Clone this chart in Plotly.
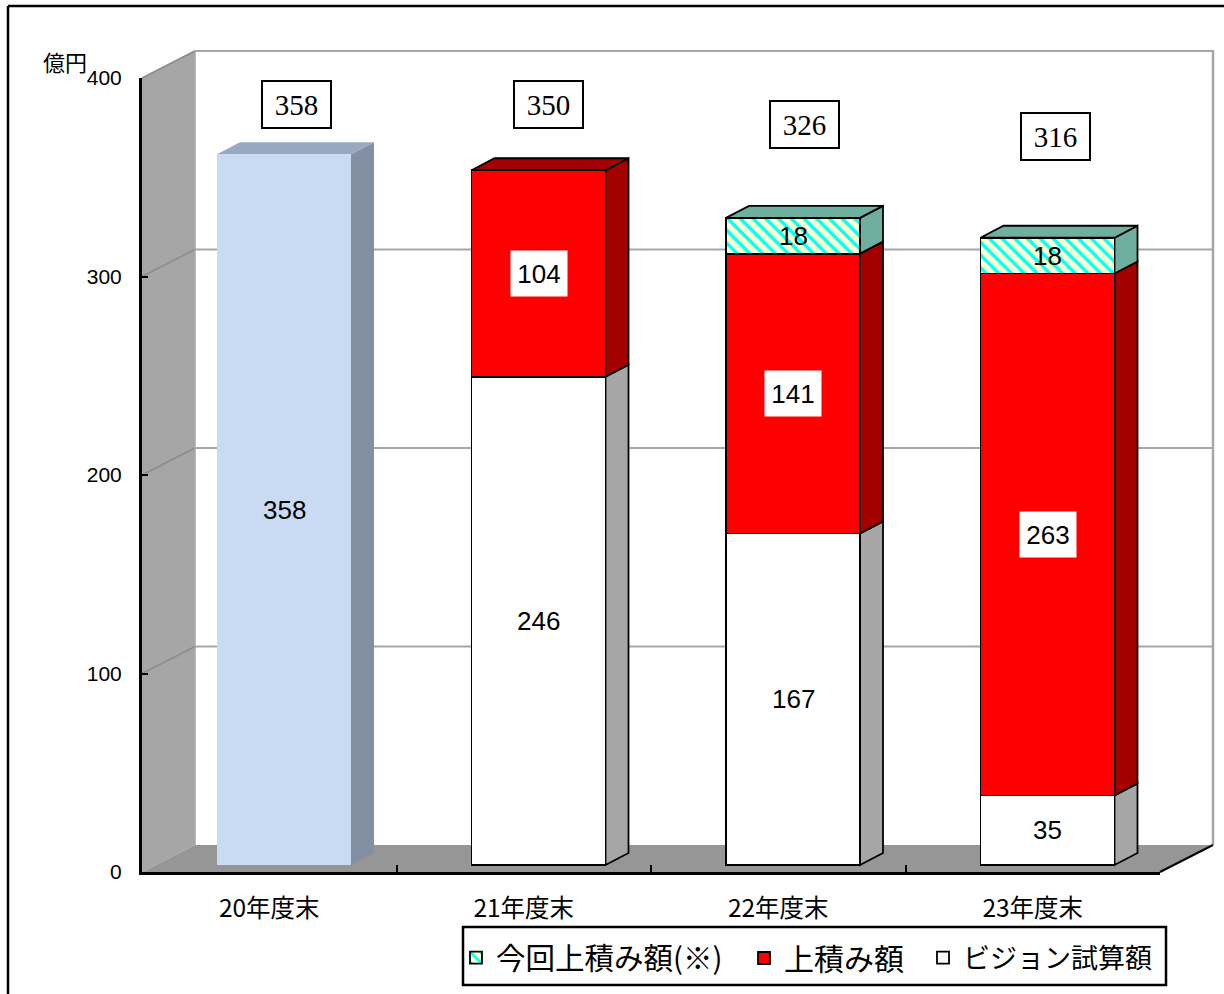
import plotly.graph_objects as go

# Chart data
categories = ["20年度末", "21年度末", "22年度末", "23年度末"]
initial = [358, None, None, None]
vision = [None, 246, 167, 35]
added = [None, 104, 141, 263]
latest = [None, None, 18, 18]
totals = [358, 350, 326, 316]
y_ticks = [0, 100, 200, 300, 400]

W, H = 1224, 994
PX_PER_UNIT = 1.985
SPACING = 254.5
BAR_W = 134 / SPACING
DX = 23 / SPACING
DY = 12 / PX_PER_UNIT
FONT_JP = "Noto Sans CJK JP"
FONT_NUM = "Liberation Sans"


def px(x):
    return x / W


def py(y):
    return 1 - y / H


def page_path(points):
    return "M" + " L".join(f"{px(a):.5f},{py(b):.5f}" for a, b in points) + " Z"


shapes = []


def page_poly(points, fill, line="rgba(0,0,0,0)", width=0):
    shapes.append(dict(type="path", path=page_path(points), xref="paper", yref="paper",
                       fillcolor=fill, line=dict(color=line, width=width), layer="below"))


def page_line(a, b, color, width):
    shapes.append(dict(type="line", xref="paper", yref="paper", x0=px(a[0]), y0=py(a[1]),
                       x1=px(b[0]), y1=py(b[1]), line=dict(color=color, width=width), layer="below"))


# Walls and floor of the 3-D box
page_poly([(142, 78), (195, 50), (195, 845), (142, 872)], "#A6A6A6")
page_poly([(142, 872), (195, 845), (1213, 845), (1160, 872)], "#969696")
for v in y_ticks[1:]:
    fy, by = 872 - v * PX_PER_UNIT, 845 - v * PX_PER_UNIT
    page_line((142, fy), (195, by), "#8C8C8C", 1.5)
    page_line((195, by), (1213, by), "#A6A6A6", 2)
page_line((195, 50), (195, 845), "#A6A6A6", 1.5)
page_line((1213, 50), (1213, 845), "#A6A6A6", 2.5)
page_line((1160, 872), (1213, 845), "#000000", 2)
page_line((8, 994), (8, 6), "#000000", 2.5)
page_line((8, 6), (1224, 6), "#000000", 2.5)
# Legend frame
shapes.append(dict(type="rect", xref="paper", yref="paper", x0=px(463), y0=py(985), x1=px(1166), y1=py(927),
                   fillcolor="white", line=dict(color="black", width=2.5), layer="below"))


def data_poly(points, fill, edge):
    path = "M" + " L".join(f"{a:.5f},{b:.4f}" for a, b in points) + " Z"
    shapes.append(dict(type="path", path=path, xref="x", yref="y", fillcolor=fill,
                       line=dict(color="black" if edge else "rgba(0,0,0,0)", width=1.8 if edge else 0),
                       layer="below"))


# Side and top faces follow the stacked values of each column
series_faces = [
    (initial, "#8390A4", "#97A8BF", False),
    (vision, "#A6A6A6", "#A6A6A6", True),
    (added, "#A40000", "#A40000", True),
    (latest, "#6FAFA0", "#6FAFA0", True),
]
for i in range(len(categories)):
    base = 0
    top_colour, top_edge = None, True
    for values, side, top, edge in series_faces:
        if values[i] is None:
            continue
        t = base + values[i]
        r = i + BAR_W / 2
        data_poly([(r, base), (r + DX, base + DY), (r + DX, t + DY), (r, t)], side, edge)
        base = t
        top_colour, top_edge = top, edge
    l, r = i - BAR_W / 2, i + BAR_W / 2
    data_poly([(l, base), (r, base), (r + DX, base + DY), (l + DX, base + DY)], top_colour, top_edge)

xs = list(range(len(categories)))
fig = go.Figure()
outline = dict(color="black", width=1.8)
fig.add_bar(x=xs, y=initial, width=BAR_W, marker=dict(color="#C9DAF3", line=dict(width=0)), showlegend=False)
fig.add_bar(x=xs, y=vision, width=BAR_W, name="ビジョン試算額", legend="legend3",
            marker=dict(color="white", line=outline))
fig.add_bar(x=xs, y=added, width=BAR_W, name="上積み額", legend="legend2",
            marker=dict(color="#FF0000", line=outline))
fig.add_bar(x=xs, y=latest, width=BAR_W, name="今回上積み額(※)", legend="legend",
            marker=dict(color="#FFFFCC", line=outline,
                        pattern=dict(shape="\\", fgcolor="#00FFFF", bgcolor="#FFFFCC", size=9, solidity=0.38)))

# Carrier trace for the visible front axes
fig.add_scatter(x=categories, y=[0, 0, 0, 0], xaxis="x2", yaxis="y2", mode="markers",
                marker=dict(opacity=0), showlegend=False, hoverinfo="skip")

annotations = []
for i in range(len(categories)):
    base = 0
    for values, white_box in ((initial, False), (vision, False), (added, True), (latest, False)):
        if values[i] is None:
            continue
        mid = base + values[i] / 2
        base += values[i]
        label = dict(x=i, y=mid, xref="x", yref="y", text=str(values[i]), showarrow=False,
                     xanchor="center", yanchor="middle",
                     font=dict(family=FONT_NUM, size=26, color="black"))
        if white_box:
            label.update(bgcolor="white", width=54, height=43)
        annotations.append(label)

# Boxed totals sit at hand-placed page positions above the columns
total_boxes = [(296, 104), (548, 104), (804, 124), (1055, 137)]
for (bx, by), total in zip(total_boxes, totals):
    annotations.append(dict(x=px(bx), y=py(by), xref="paper", yref="paper", text=str(total), showarrow=False,
                            xanchor="center", yanchor="middle",
                            font=dict(family="Liberation Serif", size=29, color="black"),
                            bgcolor="white", bordercolor="black", borderwidth=2, borderpad=0, width=67, height=45))
annotations.append(dict(x=px(65), y=py(61), xref="paper", yref="paper", text="億円", showarrow=False,
                        xanchor="center", yanchor="middle",
                        font=dict(family=FONT_JP, size=22, color="black")))


def legend_at(left, size):
    return dict(orientation="h", x=px(left), y=py(958), xanchor="left", yanchor="middle",
                bgcolor="rgba(0,0,0,0)", borderwidth=0,
                font=dict(family=FONT_JP, size=size, color="black"))


fig.update_layout(
    template="none",
    width=W, height=H, autosize=False,
    margin=dict(l=0, r=0, t=0, b=0),
    paper_bgcolor="white", plot_bgcolor="rgba(0,0,0,0)",
    barmode="stack",
    showlegend=True,
    shapes=shapes,
    annotations=annotations,
    hovermode=False,
    legend=legend_at(456, 29.5),
    legend2=legend_at(744, 30),
    legend3=legend_at(923, 27),
    xaxis=dict(domain=[0, 1], range=[-284 / SPACING, (W - 284) / SPACING], visible=False, fixedrange=True),
    yaxis=dict(domain=[0, 1], range=[(865 - H) / PX_PER_UNIT, 865 / PX_PER_UNIT], visible=False, fixedrange=True),
    xaxis2=dict(domain=[px(142), px(1160)], anchor="y2", type="category", categoryorder="array",
                categoryarray=categories, range=[-0.5, 3.5], tickson="boundaries", ticks="inside", ticklen=7,
                tickwidth=2, tickcolor="black", showline=True, linecolor="black", linewidth=3, showgrid=False,
                zeroline=False, ticklabelstandoff=13, tickfont=dict(family=FONT_JP, size=24.5, color="black")),
    yaxis2=dict(domain=[py(872), py(78)], anchor="x2", range=[0, 400], tickvals=y_ticks, ticks="inside", ticklen=6,
                tickwidth=2, tickcolor="black", showline=True, linecolor="black", linewidth=3, showgrid=False,
                zeroline=False, ticklabelstandoff=13, tickfont=dict(family=FONT_NUM, size=21, color="black")),
)

fig.write_html("out.html")
